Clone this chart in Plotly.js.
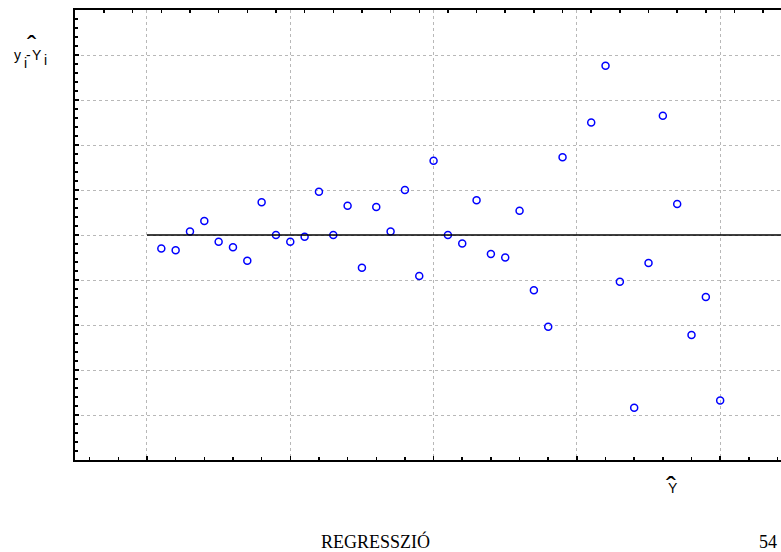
<!DOCTYPE html>
<html>
<head>
<meta charset="utf-8">
<script src="https://cdn.plot.ly/plotly-3.0.1.min.js"></script>
<style>html,body{margin:0;padding:0;background:#fff;}#chart{width:781px;height:552px;}</style>
</head>
<body>
<div id="chart"></div>
<script>
// Fitted values (Ŷ) and residuals (y_i - Ŷ_i)
const fitted = [1.1,1.2,1.3,1.4,1.5,1.6,1.7,1.8,1.9,2.0,
                2.1,2.2,2.3,2.4,2.5,2.6,2.7,2.8,2.9,3.0,
                3.1,3.2,3.3,3.4,3.5,3.6,3.7,3.8,3.9,
                4.1,4.2,4.3,4.4,4.5,4.6,4.7,4.8,4.9,5.0];
const residuals = [-0.30,-0.34,0.08,0.31,-0.15,-0.27,-0.57,0.73,0.00,-0.15,
                   -0.04,0.96,0.00,0.65,-0.73,0.62,0.08,1.00,-0.91,1.65,
                   0.00,-0.19,0.77,-0.42,-0.50,0.54,-1.23,-2.04,1.73,
                   2.50,3.76,-1.04,-3.84,-0.62,2.65,0.69,-2.22,-1.38,-3.68];
const refLineX = [1.0, 5.6];
const refLineY = [0, 0];
const footerText = "REGRESSZIÓ";
const pageNumber = "54";

const xRange = [0.4976, 5.4245];
const yRange = [-5, 5];

const traces = [
  {x: refLineX, y: refLineY, type: 'scatter', mode: 'lines', xaxis: 'x2', yaxis: 'y',
   line: {color: '#000', width: 1.5}, hoverinfo: 'skip', showlegend: false},
  {x: fitted, y: residuals, type: 'scatter', mode: 'markers',
   marker: {symbol: 'circle-open', size: 7, color: '#0000ff', line: {color: '#0000ff', width: 1.5}},
   showlegend: false}
];

const axisCommon = {
  showticklabels: false, zeroline: false, showline: true, linecolor: '#000', linewidth: 2,
  ticks: 'inside', ticklen: 4, tickwidth: 1.5, tickcolor: '#000',
  showgrid: true, gridcolor: '#b8b8b8', gridwidth: 1, griddash: 'dot'
};

const sans = 'Liberation Sans, Arial, sans-serif';
const serif = 'Liberation Serif, Times New Roman, serif';
function txt(text, x, y, size, family, xanchor) {
  return {text: text, xref: 'paper', yref: 'paper', x: x, y: y, xanchor: xanchor || 'center',
          yanchor: 'middle', showarrow: false, font: {family: family, size: size, color: '#000'}};
}

const layout = {
  width: 781, height: 552,
  margin: {l: 75, r: 0, t: 10, b: 92},
  paper_bgcolor: '#fff', plot_bgcolor: '#fff',
  showlegend: false,
  xaxis: Object.assign({}, axisCommon, {range: xRange, tick0: 0, dtick: 1, mirror: true,
    minor: {ticks: 'inside', dtick: 0.2, tick0: 0, ticklen: 3, tickwidth: 1.5, tickcolor: '#000', showgrid: false}}),
  xaxis2: {overlaying: 'x', side: 'top', range: xRange, showticklabels: false, showgrid: false,
    zeroline: false, showline: false, ticks: 'inside', tick0: 0.1, dtick: 0.2, ticklen: 3,
    tickwidth: 1.5, tickcolor: '#000'},
  yaxis: Object.assign({}, axisCommon, {range: yRange, tick0: 0, dtick: 1, mirror: false,
    minor: {ticks: 'inside', dtick: 0.2, tick0: 0, ticklen: 3, tickwidth: 1.5, tickcolor: '#000', showgrid: false}}),
  annotations: [
    // y-axis label: y_i - Ŷ_i
    txt('y', -0.08994, 0.9, 14, sans, 'left'),
    txt('i', -0.07082, 0.88222, 14, sans),
    txt('-', -0.06586, 0.9, 14, sans),
    txt('Y', -0.05425, 0.9, 14, sans),
    txt('i', -0.04136, 0.88889, 14, sans),
    txt('ˆ', -0.0602, 0.92022, 28, sans),
    // x-axis label: Ŷ
    txt('Y', 0.84773, -0.06222, 14, sans),
    txt('ˆ', 0.84419, -0.05778, 30, sans),
    // page footer
    txt(footerText, 0.4263, -0.1822, 18, serif),
    txt(pageNumber, 0.9816, -0.1822, 18, serif)
  ]
};

Plotly.newPlot('chart', traces, layout, {staticPlot: true, displayModeBar: false});
</script>
</body>
</html>
